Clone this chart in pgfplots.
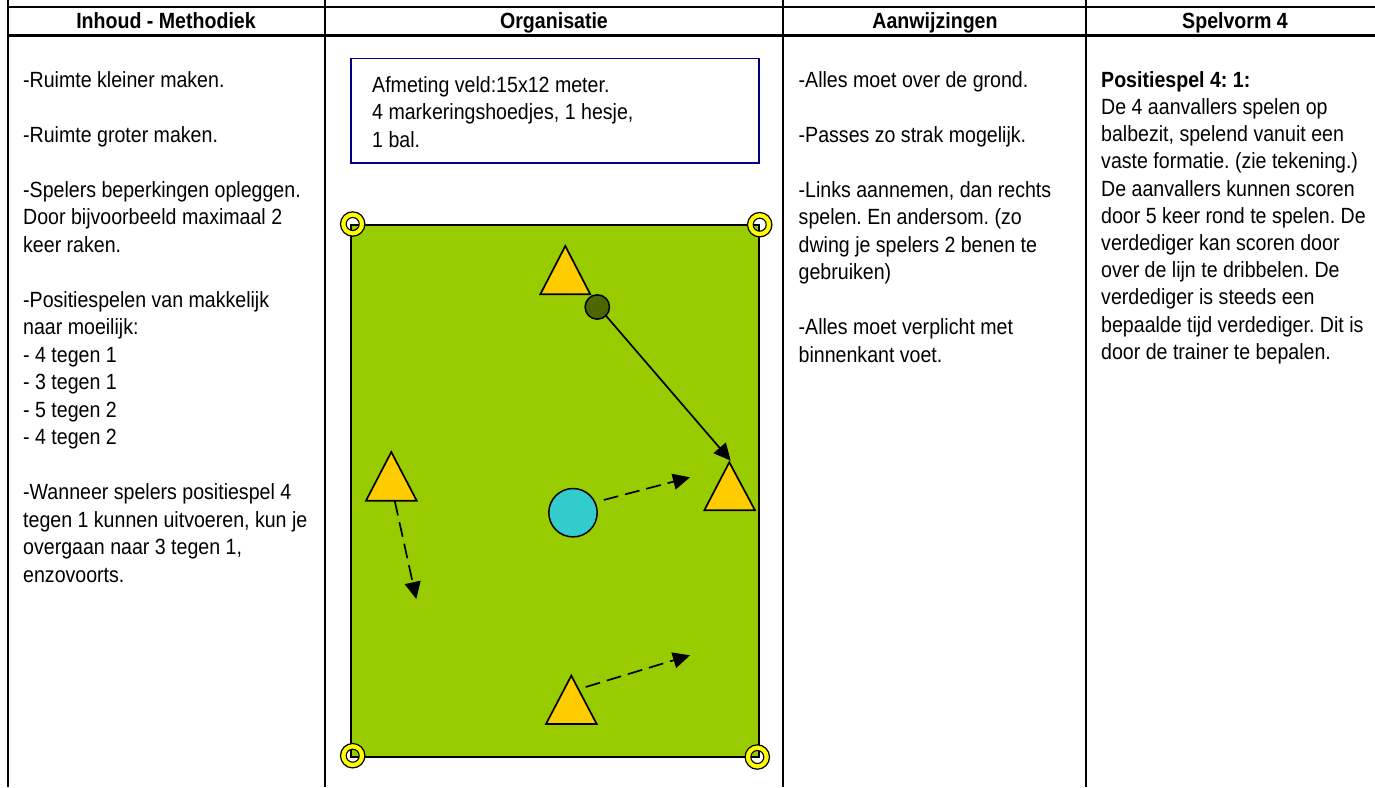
\documentclass[border=0pt]{standalone}
\usepackage{fontspec}
\setmainfont[FakeStretch=0.89]{Liberation Sans}
\usepackage{pgfplots}
\pgfplotsset{compat=1.18}
\usetikzlibrary{arrows.meta}
\definecolor{field}{HTML}{99CC00}
\definecolor{player}{HTML}{FFCC00}
\definecolor{keeper}{HTML}{33CCCC}
\definecolor{ballgreen}{HTML}{4D6600}
\definecolor{boxblue}{HTML}{000080}
\definecolor{cone}{HTML}{FFFF00}

\newcommand{\txt}{\frenchspacing\fontsize{22}{27.5}\selectfont}
\newcommand{\txtb}{\frenchspacing\fontsize{22}{27.2}\selectfont}

\begin{document}
\begin{tikzpicture}
\begin{axis}[
    hide axis,
    scale only axis,
    width=1375pt,
    height=787pt,
    xmin=0, xmax=1375,
    ymin=0, ymax=787,
    y dir=reverse,
    every axis plot/.append style={line join=miter},
]
% table rules
\addplot[black, line width=2.4pt] coordinates {(8,7) (1375,7)};
\addplot[black, line width=2.4pt] coordinates {(8,35.5) (1375,35.5)};
\addplot[black, line width=2.4pt] coordinates {(8,0) (8,787)};
\addplot[black, line width=2.4pt] coordinates {(325,0) (325,787)};
\addplot[black, line width=2.4pt] coordinates {(783,0) (783,787)};
\addplot[black, line width=2.4pt] coordinates {(1086,0) (1086,787)};

% info box
\addplot[boxblue, line width=1.9pt] coordinates {(351,58.5) (759,58.5) (759,163) (351,163)} -- cycle;

% field
\addplot[fill=field, draw=black, line width=1.7pt] coordinates {(351,225) (759,225) (759,757) (351,757)} -- cycle;

% cones
\addplot[only marks, mark=o, mark size=9.4pt, cone, mark options={line width=5.6pt}] coordinates {(352.7,224) (759.7,224.7) (352.7,755.7) (757.3,757)};
\addplot[only marks, mark=o, mark size=12.2pt, black, mark options={line width=1.2pt}] coordinates {(352.7,224) (759.7,224.7) (352.7,755.7) (757.3,757)};
\addplot[only marks, mark=o, mark size=6.5pt, black, mark options={line width=1.1pt}] coordinates {(352.7,224) (759.7,224.7) (352.7,755.7) (757.3,757)};

% players
\addplot[fill=player, draw=black, line width=1.7pt] coordinates {(565.3,246) (590.3,294.3) (540.3,294.3)} -- cycle;
\addplot[fill=player, draw=black, line width=1.7pt] coordinates {(391.3,452) (416.7,500.7) (366,500.7)} -- cycle;
\addplot[fill=player, draw=black, line width=1.7pt] coordinates {(729.3,462.3) (755,510.3) (704.3,510.3)} -- cycle;
\addplot[fill=player, draw=black, line width=1.7pt] coordinates {(571.3,675.7) (596.7,724) (546,724)} -- cycle;

% defender and ball
\addplot[only marks, mark=*, mark size=24.2pt, mark options={fill=keeper, draw=black, line width=1.5pt}] coordinates {(573,512.7)};
\addplot[only marks, mark=*, mark size=12.2pt, mark options={fill=ballgreen, draw=black, line width=1.5pt}] coordinates {(597.3,307)};

% passes and runs
\addplot[black, line width=1.7pt, -{Triangle[length=17pt,width=16pt]}] coordinates {(595,303) (730.7,460.7)};
\addplot[black, line width=1.7pt, dash pattern=on 15pt off 7pt, -{Triangle[length=17pt,width=16pt]}] coordinates {(603.7,500) (690,477.3)};
\addplot[black, line width=1.7pt, dash pattern=on 15pt off 7pt, -{Triangle[length=17pt,width=16pt]}] coordinates {(394.7,500.7) (416.3,599)};
\addplot[black, line width=1.7pt, dash pattern=on 15pt off 7pt, -{Triangle[length=17pt,width=16pt]}] coordinates {(585.7,687) (690,655.3)};

% headers
\node[anchor=base, font=\txt\bfseries, inner sep=0pt] at (axis cs:166,28) {Inhoud - Methodiek};
\node[anchor=base, font=\txt\bfseries, inner sep=0pt] at (axis cs:554,28) {Organisatie};
\node[anchor=base, font=\txt\bfseries, inner sep=0pt] at (axis cs:935,28) {Aanwijzingen};
\node[anchor=base, font=\txt\bfseries, inner sep=0pt] at (axis cs:1235,28) {Spelvorm 4};

% column texts
\node[anchor=north west, align=left, font=\txt, inner sep=0pt] at (axis cs:23,67.8) {\strut -Ruimte kleiner maken.\\ \\
-Ruimte groter maken.\\ \\
-Spelers beperkingen opleggen.\\
Door bijvoorbeeld maximaal 2\\
keer raken.\\ \\
-Positiespelen van makkelijk\\
naar moeilijk:\\
- 4 tegen 1\\
- 3 tegen 1\\
- 5 tegen 2\\
- 4 tegen 2\\ \\
-Wanneer spelers positiespel 4\\
tegen 1 kunnen uitvoeren, kun je\\
overgaan naar 3 tegen 1,\\
enzovoorts.};

\node[anchor=north west, align=left, font=\txt, inner sep=0pt] at (axis cs:372,72.8) {\strut Afmeting veld:15x12 meter.\\
4 markeringshoedjes, 1 hesje,\\
1 bal.};

\node[anchor=north west, align=left, font=\txt, inner sep=0pt] at (axis cs:798.5,67.8) {\strut -Alles moet over de grond.\\ \\
-Passes zo strak mogelijk.\\ \\
-Links aannemen, dan rechts\\
spelen. En andersom. (zo\\
dwing je spelers 2 benen te\\
gebruiken)\\ \\
-Alles moet verplicht met\\
binnenkant voet.};

\node[anchor=north west, align=left, font=\txtb, inner sep=0pt] at (axis cs:1101,68) {\strut\textbf{Positiespel 4: 1:}\\
De 4 aanvallers spelen op\\
balbezit, spelend vanuit een\\
vaste formatie. (zie tekening.)\\
De aanvallers kunnen scoren\\
door 5 keer rond te spelen. De\\
verdediger kan scoren door\\
over de lijn te dribbelen. De\\
verdediger is steeds een\\
bepaalde tijd verdediger. Dit is\\
door de trainer te bepalen.};
\end{axis}
\pgfresetboundingbox
\path[use as bounding box] (0,0) rectangle (1375pt,787pt);
\end{tikzpicture}
\end{document}
